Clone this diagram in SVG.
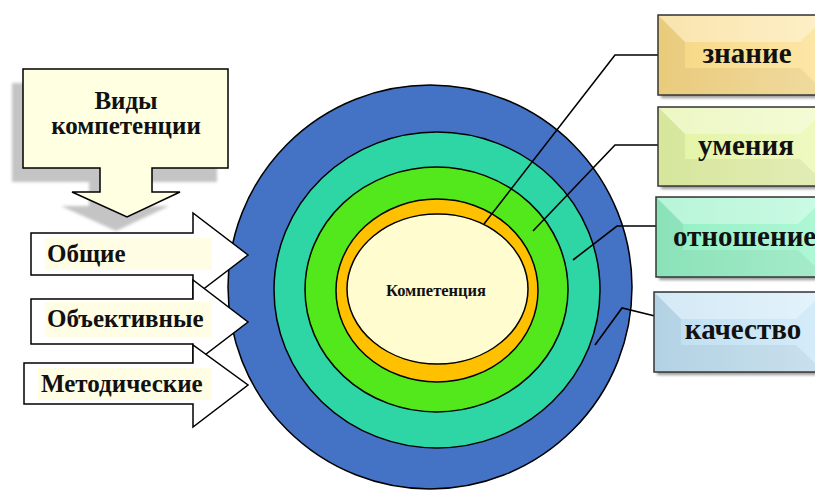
<svg xmlns="http://www.w3.org/2000/svg" width="815" height="492" viewBox="0 0 815 492">
<defs>
<style>
.ring{stroke:#000;stroke-width:1.5;}
.arrow{fill:#fff;stroke:#000;stroke-width:1.5;stroke-linejoin:miter;}
.hl{fill:#fffde3;}
.lead{fill:none;stroke:#000;stroke-width:1.6;}
.box{stroke:#333;stroke-width:1.5;}
.bvl{fill:#fff;opacity:0.35;}
.bvd{fill:#000;opacity:0.05;}
.bx{font-size:29px;}
.lt{font-size:25px;}
</style>
<linearGradient id="g1" x1="0" y1="0" x2="1" y2="0"><stop offset="0" stop-color="#f6d682"/><stop offset="1" stop-color="#fde8aa"/></linearGradient>
<linearGradient id="g2" x1="0" y1="0" x2="1" y2="0"><stop offset="0" stop-color="#e2f3a4"/><stop offset="1" stop-color="#effac2"/></linearGradient>
<linearGradient id="g3" x1="0" y1="0" x2="1" y2="0"><stop offset="0" stop-color="#92efc3"/><stop offset="1" stop-color="#b0f8d6"/></linearGradient>
<linearGradient id="g4" x1="0" y1="0" x2="1" y2="0"><stop offset="0" stop-color="#bcdef0"/><stop offset="1" stop-color="#d6ecfa"/></linearGradient>
<filter id="blur" x="-10%" y="-10%" width="120%" height="120%"><feGaussianBlur stdDeviation="1.5"/></filter>
</defs>
<rect width="815" height="492" fill="#fff"/>
<g font-family="'Liberation Serif', 'Times New Roman', serif" font-weight="bold" fill="#111">

<g id="node-competence">
<ellipse class="ring" cx="430" cy="287" rx="202" ry="202" fill="#4472c4"/>
<ellipse class="ring" cx="437" cy="290" rx="163" ry="158" fill="#2fd6a5"/>
<ellipse class="ring" cx="436.5" cy="289.5" rx="131.5" ry="122.5" fill="#52e81c"/>
<ellipse class="ring" cx="437" cy="290.5" rx="101" ry="91.5" fill="#ffc000"/>
<ellipse class="ring" cx="437.5" cy="289" rx="90.5" ry="75" fill="#fffdd0"/>
<text x="436" y="296" font-size="16.5" text-anchor="middle" fill="#111">Компетенция</text>
</g>

<g id="node-vidy">
<polygon points="23,69 228,69 228,168 152,168 152,192 180,192 127,217 72,192 100,192 100,168 23,168" fill="#c4c4c4" transform="translate(-11,14)" filter="url(#blur)"/>
<polygon points="23,69 228,69 228,168 152,168 152,192 180,192 127,217 72,192 100,192 100,168 23,168" fill="#ffffe2" stroke="#000" stroke-width="1.5"/>
<text x="126" y="109" font-size="25" text-anchor="middle" fill="#111">Виды</text>
<text x="126" y="134" font-size="25" text-anchor="middle" fill="#111">компетенции</text>
</g>

<g id="node-obshchie">
<polygon class="arrow" points="31,233 193,233 193,213 248,255 193,297 193,275 31,275"/>
<rect class="hl" x="45" y="238" width="167" height="32"/>
<text class="lt" x="47" y="262" fill="#111">Общие</text>
</g>
<g id="node-obektivnye">
<polygon class="arrow" points="31,299 193,299 193,280 248,322 193,364 193,344 31,344"/>
<rect class="hl" x="45" y="302" width="167" height="35"/>
<text class="lt" x="47" y="327" fill="#111">Объективные</text>
</g>
<g id="node-metodicheskie">
<polygon class="arrow" points="24,363 193,363 193,345 248,385 193,427 193,404 24,404"/>
<rect class="hl" x="38" y="368" width="174" height="32"/>
<text class="lt" x="41" y="392" fill="#111">Методические</text>
</g>

<g id="connectors">
<polyline class="lead" points="658,55 615,55 484,224"/>
<polyline class="lead" points="658,145 615,145 533,231"/>
<polyline class="lead" points="657,226 617,226 573,260"/>
<polyline class="lead" points="659,317 622,308 595,345"/>
</g>

<g id="node-znanie">
<rect x="661" y="18" width="170" height="80" fill="#999" filter="url(#blur)"/>
<rect class="box" x="658" y="15" width="170" height="80" fill="url(#g1)"/>
<polygon class="bvl" points="659,16 827,16 800,42 685,42"/>
<polygon class="bvd" points="659,16 685,42 685,68 659,94"/>
<polygon class="bvd" points="659,94 685,68 800,68 827,94"/>
<text class="bx" x="747" y="63" text-anchor="middle" fill="#111">знание</text>
</g>
<g id="node-umeniya">
<rect x="661" y="110" width="170" height="79" fill="#999" filter="url(#blur)"/>
<rect class="box" x="658" y="107" width="170" height="79" fill="url(#g2)"/>
<polygon class="bvl" points="659,108 827,108 800,134 685,134"/>
<polygon class="bvd" points="659,108 685,134 685,159 659,185"/>
<polygon class="bvd" points="659,185 685,159 800,159 827,185"/>
<text class="bx" x="746" y="155" text-anchor="middle" fill="#111">умения</text>
</g>
<g id="node-otnoshenie">
<rect x="659" y="200" width="170" height="80" fill="#999" filter="url(#blur)"/>
<rect class="box" x="656" y="197" width="170" height="80" fill="url(#g3)"/>
<polygon class="bvl" points="657,198 825,198 798,224 683,224"/>
<polygon class="bvd" points="657,198 683,224 683,250 657,276"/>
<polygon class="bvd" points="657,276 683,250 798,250 825,276"/>
<text class="bx" x="673" y="246" fill="#111">отношение</text>
</g>
<g id="node-kachestvo">
<rect x="657" y="295" width="170" height="80" fill="#999" filter="url(#blur)"/>
<rect class="box" x="654" y="292" width="170" height="80" fill="url(#g4)"/>
<polygon class="bvl" points="655,293 823,293 796,319 681,319"/>
<polygon class="bvd" points="655,293 681,319 681,345 655,371"/>
<polygon class="bvd" points="655,371 681,345 796,345 823,371"/>
<text class="bx" x="743" y="339" text-anchor="middle" fill="#111">качество</text>
</g>
</g>
</svg>
